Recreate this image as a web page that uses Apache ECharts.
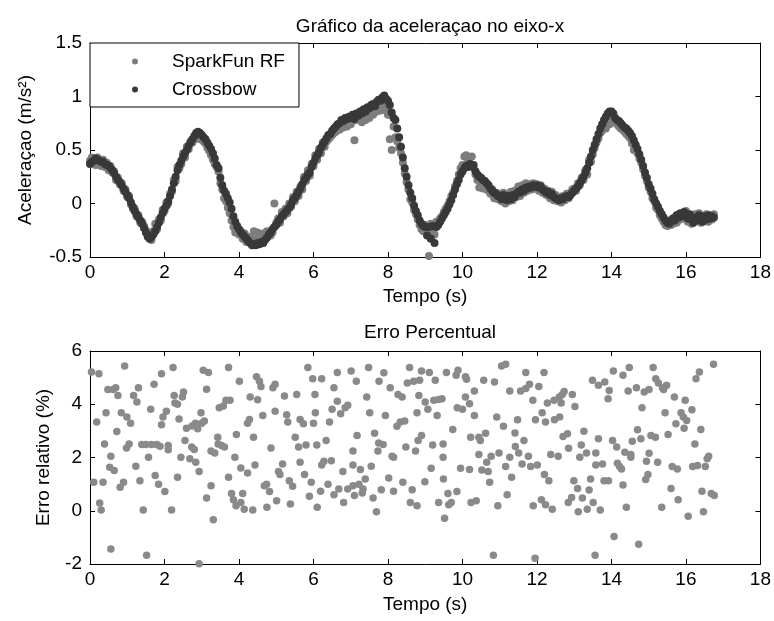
<!DOCTYPE html>
<html>
<head>
<meta charset="utf-8">
<script src="https://cdn.jsdelivr.net/npm/echarts@6/dist/echarts.min.js"></script>
<style>
html, body { margin: 0; padding: 0; background: #fff; }
#chart { width: 774px; height: 621px; }
</style>
</head>
<body>
<div id="chart"></div>
<script>
// sampling step of both accelerometers (s)
var sampleStep = 0.05;

// aceleração no eixo-x, one row per second
var sparkfun = [
    0.40,0.43,0.38,0.36,0.43,0.37,0.35,0.41,0.34,0.38,0.31,0.35,0.29,0.30,0.22,0.24,0.18,0.19,0.12,0.13,
    0.06,0.07,-0.01,-0.05,-0.05,-0.12,-0.11,-0.18,-0.17,-0.21,-0.25,-0.29,-0.30,-0.34,-0.26,-0.19,-0.24,-0.15,-0.16,-0.06,
    -0.07,0.01,0.00,0.09,0.11,0.22,0.21,0.34,0.33,0.37,0.47,0.43,0.53,0.51,0.58,0.57,0.60,0.62,0.63,0.60,
    0.61,0.58,0.56,0.52,0.49,0.45,0.41,0.37,0.34,0.30,0.19,0.13,0.05,0.02,-0.04,-0.09,-0.16,-0.22,-0.27,-0.25,
    -0.29,-0.26,-0.33,-0.28,-0.36,-0.31,-0.35,-0.33,-0.26,-0.34,-0.27,-0.31,-0.34,-0.28,-0.30,-0.26,-0.29,-0.30,-0.27,0.00,
    -0.18,-0.14,-0.18,-0.08,-0.12,-0.05,-0.09,0.00,-0.03,0.06,0.02,0.11,0.07,0.16,0.13,0.25,0.21,0.31,0.26,0.37,
    0.35,0.45,0.41,0.51,0.47,0.57,0.53,0.58,0.60,0.62,0.64,0.66,0.67,0.70,0.69,0.72,0.71,0.74,0.72,0.75,
    0.74,0.77,0.59,0.78,0.80,0.79,0.76,0.81,0.78,0.83,0.80,0.85,0.83,0.87,0.86,0.89,0.87,0.92,0.89,0.87,
    0.83,0.60,0.50,0.72,0.62,0.58,0.52,0.47,0.38,0.28,0.20,0.13,0.04,0.01,-0.06,-0.10,-0.15,-0.20,-0.24,-0.26,
    -0.20,-0.25,-0.49,-0.19,-0.25,-0.29,-0.17,-0.18,-0.14,-0.12,-0.08,-0.05,-0.02,0.02,0.07,0.10,0.16,0.21,0.27,0.33,
    0.36,0.44,0.45,0.40,0.43,0.44,0.33,0.27,0.22,0.15,0.21,0.14,0.18,0.13,0.12,0.09,0.13,0.05,0.10,0.04,
    0.09,0.02,0.10,0.00,0.08,0.02,0.11,0.03,0.12,0.06,0.16,0.07,0.17,0.10,0.19,0.12,0.18,0.13,0.19,0.14,
    0.18,0.12,0.17,0.10,0.14,0.08,0.12,0.05,0.11,0.03,0.08,0.02,0.06,0.01,0.07,0.03,0.09,0.05,0.10,0.13,
    0.14,0.12,0.19,0.17,0.24,0.22,0.31,0.27,0.41,0.39,0.46,0.52,0.57,0.61,0.66,0.68,0.72,0.70,0.76,0.74,
    0.81,0.78,0.76,0.74,0.72,0.70,0.69,0.67,0.65,0.63,0.61,0.56,0.50,0.52,0.47,0.42,0.38,0.32,0.26,0.21,
    0.15,0.11,0.05,0.02,-0.04,-0.06,-0.11,-0.14,-0.17,-0.20,-0.21,-0.16,-0.20,-0.19,-0.13,-0.18,-0.10,-0.15,-0.09,-0.14,
    -0.07,-0.17,-0.13,-0.19,-0.12,-0.10,-0.15,-0.09,-0.18,-0.12,-0.16,-0.10,-0.17,-0.11,-0.15,-0.10
];

var crossbow = [
    0.37,0.39,0.40,0.42,0.41,0.40,0.39,0.39,0.37,0.36,0.35,0.33,0.31,0.28,0.25,0.22,0.20,0.17,0.14,0.11,
    0.08,0.05,0.01,-0.03,-0.07,-0.10,-0.13,-0.16,-0.19,-0.23,-0.27,-0.31,-0.33,-0.31,-0.29,-0.26,-0.22,-0.18,-0.13,-0.09,
    -0.05,-0.02,0.02,0.07,0.13,0.19,0.25,0.31,0.36,0.40,0.44,0.47,0.50,0.54,0.57,0.60,0.63,0.66,0.67,0.66,
    0.64,0.62,0.60,0.57,0.54,0.51,0.47,0.42,0.36,0.33,0.24,0.17,0.12,0.09,0.05,0.01,-0.05,-0.12,-0.17,-0.21,
    -0.24,-0.27,-0.29,-0.31,-0.33,-0.35,-0.37,-0.39,-0.38,-0.39,-0.37,-0.38,-0.36,-0.37,-0.34,-0.32,-0.29,-0.27,-0.24,-0.22,
    -0.20,-0.17,-0.15,-0.12,-0.10,-0.08,-0.06,-0.04,-0.01,0.03,0.05,0.08,0.11,0.14,0.18,0.22,0.24,0.27,0.29,0.34,
    0.38,0.42,0.45,0.48,0.52,0.55,0.58,0.61,0.64,0.65,0.68,0.70,0.72,0.74,0.75,0.78,0.77,0.80,0.79,0.81,
    0.80,0.83,0.79,0.84,0.82,0.86,0.84,0.88,0.86,0.90,0.89,0.92,0.93,0.91,0.95,0.97,0.96,0.99,1.01,0.98,
    0.96,0.92,0.85,0.80,0.78,0.70,0.62,0.53,0.43,0.33,0.25,0.17,0.10,0.05,-0.02,-0.07,-0.11,-0.16,-0.19,-0.21,
    -0.22,-0.30,-0.22,-0.33,-0.21,-0.37,-0.22,-0.20,-0.17,-0.14,-0.11,-0.08,-0.05,-0.01,0.03,0.08,0.13,0.18,0.22,0.27,
    0.30,0.33,0.35,0.34,0.37,0.35,0.36,0.30,0.27,0.25,0.24,0.22,0.21,0.19,0.17,0.14,0.12,0.10,0.09,0.07,
    0.06,0.04,0.08,0.05,0.03,0.07,0.04,0.08,0.06,0.09,0.11,0.10,0.13,0.12,0.15,0.14,0.16,0.15,0.17,0.16,
    0.17,0.15,0.16,0.13,0.12,0.10,0.11,0.08,0.09,0.06,0.05,0.04,0.03,0.05,0.04,0.06,0.07,0.06,0.08,0.10,
    0.12,0.14,0.16,0.19,0.22,0.25,0.29,0.33,0.38,0.44,0.50,0.55,0.60,0.65,0.70,0.74,0.78,0.81,0.84,0.86,
    0.86,0.84,0.80,0.78,0.77,0.75,0.73,0.71,0.70,0.68,0.66,0.63,0.59,0.55,0.51,0.46,0.41,0.35,0.29,0.24,
    0.18,0.14,0.09,0.04,0.00,-0.03,-0.07,-0.10,-0.13,-0.16,-0.18,-0.19,-0.17,-0.14,-0.16,-0.11,-0.13,-0.09,-0.12,-0.08,
    -0.11,-0.14,-0.10,-0.15,-0.18,-0.13,-0.16,-0.11,-0.14,-0.17,-0.12,-0.15,-0.11,-0.14,-0.12,-0.13
];

// erro percentual: instants (s) and relative error (%)
var errTime = [
    0.04,0.24,0.18,0.10,0.26,0.30,0.35,0.39,0.43,0.48,
    0.56,0.53,0.62,0.65,0.56,0.69,0.75,0.72,0.81,0.84,
    0.90,0.93,0.99,0.98,1.05,1.09,1.17,1.23,1.26,1.30,
    1.34,1.39,1.43,1.52,1.50,1.57,1.63,1.65,1.72,1.75,
    1.79,1.84,1.88,1.92,1.96,1.92,2.01,2.05,2.10,2.10,
    2.19,2.23,2.26,2.28,2.35,2.35,2.39,2.44,2.48,2.51,
    2.55,2.59,2.68,2.74,2.73,2.80,2.83,2.84,2.89,2.93,
    2.93,2.98,3.00,3.04,3.07,3.13,3.13,3.18,3.25,3.25,
    3.31,3.35,3.43,3.47,3.44,3.53,3.58,3.61,3.65,3.72,
    3.72,3.76,3.80,3.85,3.89,3.93,3.92,4.01,4.05,4.05,
    4.10,4.14,4.23,4.23,4.28,4.30,4.37,4.39,4.43,4.47,
    4.50,4.55,4.59,4.64,4.68,4.74,4.75,4.82,4.86,4.91,
    4.97,4.97,5.01,5.06,5.10,5.17,5.22,5.28,5.31,5.35,
    5.38,5.44,5.51,5.55,5.60,5.64,5.64,5.73,5.76,5.80,
    5.85,5.89,5.94,5.98,6.00,6.04,6.05,6.09,6.10,6.19,
    6.22,6.22,6.28,6.34,6.39,6.43,6.48,6.50,6.55,6.55,
    6.64,6.64,6.68,6.73,6.79,6.81,6.85,6.92,6.92,7.01,
    7.06,7.06,7.06,7.10,7.15,7.17,7.22,7.26,7.33,7.31,
    7.39,7.43,7.48,7.51,7.55,7.60,7.64,7.69,7.73,7.76,
    7.75,7.82,7.87,7.89,7.93,
    8.58,8.90,9.11,9.57,9.88,9.83,10.08,10.11,11.05,11.16,
    11.70,12.19,14.05,14.31,14.48,15.12,16.74,16.36,16.27,8.52,
    8.69,8.85,9.27,10.57,10.86,8.06,8.27,8.38,8.83,9.00,
    9.23,9.36,9.45,10.08,10.19,10.32,11.27,11.56,11.70,11.80,
    12.05,11.89,12.28,12.46,12.60,12.68,12.73,12.95,12.65,13.02,
    13.49,13.65,13.82,13.94,13.91,14.45,14.67,14.88,15.01,15.19,
    15.26,15.37,15.48,15.40,15.69,15.98,14.82,15.44,15.87,15.93,
    16.02,16.16,15.73,15.95,16.40,8.78,9.07,9.32,9.86,10.00,
    10.32,10.92,11.10,11.48,11.96,12.14,12.23,12.47,12.61,8.24,
    8.33,8.45,9.74,11.41,13.26,12.70,12.82,13.65,14.03,14.56,
    14.70,14.79,15.06,15.18,15.52,16.24,8.48,8.74,8.81,8.90,
    9.20,9.48,9.48,10.22,10.44,10.48,10.62,10.44,10.65,10.77,
    10.98,11.27,11.42,11.51,11.65,11.77,11.60,11.83,12.01,12.37,
    12.57,12.85,13.19,13.15,13.33,13.58,13.58,13.76,14.14,14.22,
    14.27,14.16,14.36,14.52,14.52,14.94,15.01,15.24,15.63,15.77,
    16.18,16.31,16.52,16.57,16.61,9.16,9.95,10.19,10.52,10.69,
    11.16,8.02,8.40,8.65,8.15,8.99,9.49,9.61,9.85,10.73,
    11.32,11.20,12.20,12.32,12.99,13.09,13.40,13.44,13.80,13.92,
    14.31,14.92,14.98,15.60,15.79,16.43,16.68,16.76,8.60,8.78,
    9.36,9.63,9.70,9.52,10.23,10.37,10.95,11.90,12.12,12.23,
    12.41,12.84,12.93,13.11,13.22,13.35,13.51,13.70,14.40,15.35,
    16.06,16.47,14.07,14.73,10.83,11.95,13.56,8.11,8.15
];

var errPct = [
    5.21,5.15,3.33,1.07,0.29,0.03,1.07,2.51,3.68,4.55,
    2.05,1.63,4.55,1.51,-1.44,4.62,4.33,2.98,0.88,3.68,
    1.07,5.44,3.52,2.36,2.51,3.29,4.33,1.67,4.08,4.62,
    1.13,2.49,0.03,-1.67,2.49,2.01,3.81,2.49,4.75,1.32,
    2.49,1.00,2.42,5.15,3.52,3.23,0.72,3.74,2.45,2.29,
    0.03,5.38,4.33,4.05,4.00,1.26,3.45,2.01,4.27,4.46,
    2.64,3.10,1.95,3.18,2.39,2.30,3.29,1.82,3.08,1.47,
    -1.99,3.68,3.29,5.28,3.37,4.56,0.48,5.19,0.94,2.24,
    -0.34,2.17,2.76,3.87,2.51,2.45,3.93,2.39,4.15,5.38,
    1.26,4.15,0.65,0.41,2.01,2.86,0.19,4.86,1.61,0.31,
    0.65,0.06,1.42,3.29,3.43,4.27,0.03,2.76,1.72,5.03,
    4.17,4.86,4.67,3.58,0.94,1.00,0.13,0.72,2.36,4.62,
    4.75,3.74,0.38,1.47,1.36,1.76,4.31,3.61,3.33,1.13,
    0.25,0.92,2.76,4.37,2.39,3.43,1.82,3.27,1.36,2.47,
    5.38,0.54,1.07,4.96,3.29,4.37,3.68,2.47,0.13,0.73,
    4.96,1.72,1.86,2.64,1.00,3.33,1.88,3.81,4.62,0.60,
    5.19,4.11,0.82,3.64,1.47,0.31,3.87,3.96,0.82,5.25,
    2.24,1.72,0.94,0.57,4.86,2.83,1.00,1.55,0.82,0.67,
    1.19,4.27,5.38,3.68,1.67,0.48,2.91,-0.04,2.24,4.86,
    2.54,0.79,2.49,5.18,3.58,
    5.38,5.25,5.19,5.19,5.28,5.09,5.03,4.94,5.44,5.50,
    5.19,5.19,5.25,5.09,5.38,5.38,5.50,5.21,4.96,4.80,
    4.86,4.90,4.90,4.90,4.84,4.62,4.37,4.27,4.33,4.08,
    4.15,4.18,4.21,4.27,4.02,4.50,4.50,4.50,4.59,4.75,
    4.67,4.15,4.05,4.15,4.27,4.37,4.48,4.37,4.05,3.92,
    4.90,4.71,4.84,4.52,4.21,4.50,4.62,4.46,4.55,4.96,
    4.80,4.62,4.71,4.55,4.27,4.15,3.87,3.68,3.68,3.52,
    3.39,3.79,3.27,3.10,3.05,3.68,3.81,3.58,3.87,3.81,
    3.58,3.52,3.17,3.42,3.42,3.68,3.33,3.42,3.52,3.17,
    3.33,3.37,3.05,2.92,2.99,2.79,2.89,2.70,2.64,2.61,
    3.04,2.70,2.83,2.76,2.86,2.51,2.39,2.24,2.64,2.83,
    2.47,2.51,2.01,2.76,2.76,2.64,2.91,2.11,1.82,2.05,
    2.17,2.01,2.41,2.17,2.64,2.05,1.76,1.66,1.72,2.11,
    2.05,2.35,2.47,2.01,2.17,2.17,1.72,1.76,2.39,1.66,
    1.57,1.78,2.20,2.11,2.01,1.86,2.16,1.82,1.66,1.57,
    1.66,1.70,1.66,1.95,2.05,1.60,1.60,1.55,1.53,1.47,
    1.66,1.23,1.07,0.79,0.73,1.09,1.19,0.65,0.72,1.07,
    1.26,0.60,1.36,1.13,1.13,0.84,0.78,1.19,1.13,1.13,
    0.97,1.17,1.36,0.84,0.41,0.73,0.65,0.57,0.31,0.19,
    0.31,0.23,0.31,-0.28,0.31,0.38,0.19,0.19,0.41,0.23,
    0.06,0.31,0.50,-0.04,0.48,0.06,0.31,0.03,0.13,0.13,
    -0.21,-0.04,-0.97,-1.26,-1.67,-1.78,-1.67,2.05,2.01
];

var fontFamily = '"Liberation Sans", Arial, Helvetica, sans-serif';
var fontSize = 19;

function toPairs(values) {
    return values.map(function (v, i) {
        return [+(i * sampleStep).toFixed(2), v];
    });
}

function xAxisFor(gridIndex, position, withLabels, nameGap) {
    return {
        gridIndex: gridIndex,
        type: 'value',
        position: position,
        min: 0,
        max: 18,
        interval: 2,
        axisLine: { show: true, onZero: false, lineStyle: { color: '#000', width: 1 } },
        axisTick: { show: true, inside: true, length: 5, lineStyle: { color: '#000' } },
        axisLabel: { show: withLabels, color: '#000', fontSize: fontSize, fontFamily: fontFamily, margin: 6 },
        splitLine: { show: false },
        name: withLabels ? 'Tempo (s)' : '',
        nameLocation: 'middle',
        nameGap: nameGap || 30,
        nameTextStyle: { color: '#000', fontSize: fontSize, fontFamily: fontFamily }
    };
}

function yAxisFor(gridIndex, position, min, max, interval, name, nameGap) {
    return {
        gridIndex: gridIndex,
        type: 'value',
        position: position,
        min: min,
        max: max,
        interval: interval,
        axisLine: { show: true, onZero: false, lineStyle: { color: '#000', width: 1 } },
        axisTick: { show: true, inside: true, length: 5, lineStyle: { color: '#000' } },
        axisLabel: { show: !!name, color: '#000', fontSize: fontSize, fontFamily: fontFamily, margin: 8 },
        splitLine: { show: false },
        name: name || '',
        nameLocation: 'middle',
        nameGap: nameGap || 50,
        nameTextStyle: { color: '#000', fontSize: fontSize, fontFamily: fontFamily }
    };
}

var errData = errTime.map(function (t, i) { return [t, errPct[i]]; });

var chart = echarts.init(document.getElementById('chart'));

chart.setOption({
    backgroundColor: '#fff',
    animation: false,
    title: [{
        text: 'Gráfico da aceleraçao no eixo-x',
        left: 425,
        top: 12,
        textAlign: 'center',
        textStyle: { color: '#000', fontSize: fontSize, fontWeight: 'normal', fontFamily: fontFamily }
    }, {
        text: 'Erro Percentual',
        left: 425,
        top: 318,
        textAlign: 'center',
        textStyle: { color: '#000', fontSize: fontSize, fontWeight: 'normal', fontFamily: fontFamily }
    }],
    legend: {
        orient: 'vertical',
        left: 90,
        top: 43,
        padding: [9, 14, 8, 42],
        itemGap: 9,
        itemWidth: 6,
        itemHeight: 6,
        icon: 'circle',
        backgroundColor: '#fff',
        borderColor: '#000',
        borderWidth: 1,
        borderRadius: 0,
        textStyle: { color: '#000', fontSize: fontSize, fontFamily: fontFamily, lineHeight: 19, padding: [0, 0, 0, 29] },
        data: ['SparkFun RF', 'Crossbow']
    },
    grid: [
        { left: 90, top: 43, width: 671, height: 214 },
        { left: 90, top: 351, width: 671, height: 213 }
    ],
    xAxis: [
        xAxisFor(0, 'bottom', true, 30),
        xAxisFor(0, 'top', false),
        xAxisFor(1, 'bottom', true, 31),
        xAxisFor(1, 'top', false)
    ],
    yAxis: [
        yAxisFor(0, 'left', -0.5, 1.5, 0.5, 'Aceleraçao (m/s²)', 55),
        yAxisFor(0, 'right', -0.5, 1.5, 0.5, null),
        yAxisFor(1, 'left', -2, 6, 2, 'Erro relativo (%)', 37),
        yAxisFor(1, 'right', -2, 6, 2, null)
    ],
    series: [{
        name: 'SparkFun RF',
        type: 'scatter',
        xAxisIndex: 0,
        yAxisIndex: 0,
        symbolSize: 8,
        clip: false,
        itemStyle: { color: '#7d7d7d', opacity: 1 },
        data: toPairs(sparkfun)
    }, {
        name: 'Crossbow',
        type: 'scatter',
        xAxisIndex: 0,
        yAxisIndex: 0,
        symbolSize: 8,
        clip: false,
        itemStyle: { color: '#383838', opacity: 1 },
        data: toPairs(crossbow)
    }, {
        name: 'Erro',
        type: 'scatter',
        xAxisIndex: 2,
        yAxisIndex: 2,
        symbolSize: 7.5,
        clip: false,
        itemStyle: { color: '#8a8a8a', opacity: 1 },
        data: errData
    }]
});
</script>
</body>
</html>
